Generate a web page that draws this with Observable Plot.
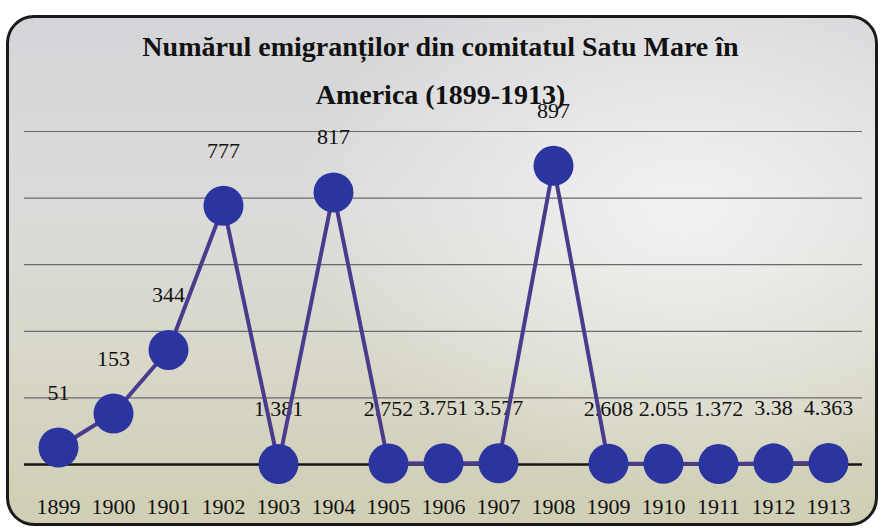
<!DOCTYPE html>
<html>
<head>
<meta charset="utf-8">
<script src="https://cdn.jsdelivr.net/npm/d3@7"></script>
<script src="https://cdn.jsdelivr.net/npm/@observablehq/plot@0.6"></script>
<style>
  html, body { margin: 0; padding: 0; background: #fff; }
  #wrap { position: relative; width: 881px; height: 528px; overflow: hidden; background: #fff; }
  #frame {
    position: absolute; left: 6px; top: 15px; width: 866px; height: 505px;
    border: 3px solid #1a1a1a; border-radius: 28px;
    background:
      radial-gradient(ellipse 45% 55% at 78% 38%, rgba(246,246,246,0.85), rgba(246,246,246,0) 100%),
      linear-gradient(180deg, #d4d5d8 0%, #dbdbdb 35%, #d8d7c9 68%, #d0ceb3 100%);
  }
  #title {
    position: absolute; left: 0; top: 23px; width: 881px; text-align: center;
    font-family: "Liberation Serif", "DejaVu Serif", serif; font-weight: bold;
    font-size: 28px; line-height: 48px; color: #111;
  }
  #chart { position: absolute; left: 0; top: 0; }
</style>
</head>
<body>
<div id="wrap">
  <div id="frame"></div>
  <div id="chart"></div>
  <div id="title">Numărul emigranților din comitatul Satu Mare în<br>America (1899-1913)</div>
</div>
<script>
const years = ["1899","1900","1901","1902","1903","1904","1905","1906","1907","1908","1909","1910","1911","1912","1913"];
const values = [51, 153, 344, 777, 1.381, 817, 2.752, 3.751, 3.577, 897, 2.608, 2.055, 1.372, 3.38, 4.363];
const labels = ["51","153","344","777","1.381","817","2.752","3.751","3.577","897","2.608","2.055","1.372","3.38","4.363"];
const gridTicks = [200, 400, 600, 800, 1000];

const data = years.map((year, i) => ({year, value: values[i], label: labels[i]}));
const font = "'Liberation Serif', 'DejaVu Serif', serif";

const chart = Plot.plot({
  width: 881,
  height: 528,
  marginTop: 131,
  marginBottom: 64,
  marginLeft: 24,
  marginRight: 19,
  style: {background: "transparent", fontFamily: font, color: "#111"},
  x: {type: "point", domain: years, padding: 0.5, label: null},
  y: {domain: [0, 1000], axis: null},
  marks: [
    Plot.ruleY(gridTicks, {stroke: "#6a6a6a", strokeWidth: 1.2}),
    Plot.ruleY([0], {stroke: "#141414", strokeWidth: 2.5}),
    Plot.axisX({tickSize: 0, tickPadding: 34, fontSize: 22, fontFamily: font, fill: "#111", label: null}),
    Plot.text(data, {x: "year", y: "value", text: "label", dy: -55, fontSize: 22, fontFamily: font, fill: "#111"}),
    Plot.line(data, {x: "year", y: "value", stroke: "#4a3c8c", strokeWidth: 4}),
    Plot.dot(data, {x: "year", y: "value", r: 20, fill: "#2b35a0", stroke: "none"})
  ]
});
document.getElementById("chart").appendChild(chart);
</script>
</body>
</html>
